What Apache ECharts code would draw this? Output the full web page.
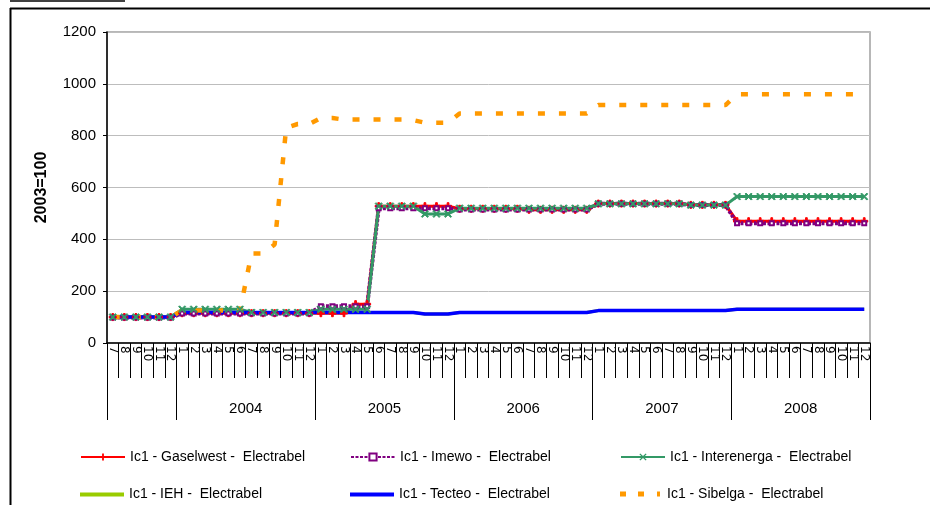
<!DOCTYPE html>
<html>
<head>
<meta charset="utf-8">
<script src="https://cdn.jsdelivr.net/npm/echarts@6/dist/echarts.min.js"></script>
<style>
  html, body { margin: 0; padding: 0; background: #fff; }
  #chart { width: 930px; height: 505px; }
</style>
</head>
<body>
<div id="chart"></div>
<script>
// Months from July 2003 to December 2008 (one category per month)
const monthLabels = [
  '7','8','9','10','11','12',
  '1','2','3','4','5','6','7','8','9','10','11','12',
  '1','2','3','4','5','6','7','8','9','10','11','12',
  '1','2','3','4','5','6','7','8','9','10','11','12',
  '1','2','3','4','5','6','7','8','9','10','11','12',
  '1','2','3','4','5','6','7','8','9','10','11','12'
];
const yearLabels = ['2004', '2005', '2006', '2007', '2008'];

// Index values, 2003 = 100
const gaselwest = [
  100,100,100,100,100,100,
  115,115,115,115,115,115,115,115,115,115,115,115,
  115,115,115,150,150,528,528,528,528,528,528,528,
  518,518,518,518,518,518,514,514,514,514,514,514,
  538,538,538,538,538,538,538,538,533,533,533,533,
  470,470,470,470,470,470,470,470,470,470,470,470
];
const imewo = [
  98,98,98,98,98,98,
  114,114,114,114,114,114,114,114,114,114,114,114,
  142,142,142,142,142,520,520,520,520,520,520,520,
  515,515,515,515,515,515,515,515,515,515,515,515,
  537,537,537,537,537,537,537,537,532,532,532,532,
  462,462,462,462,462,462,462,462,462,462,462,462
];
const interenerga = [
  100,100,100,100,100,100,
  130,130,130,130,130,130,118,118,118,118,118,118,
  130,130,130,130,130,528,528,528,528,498,498,498,
  520,520,520,520,520,520,520,520,520,520,520,520,
  537,537,537,537,537,537,537,537,532,532,532,532,
  565,565,565,565,565,565,565,565,565,565,565,565
];
const ieh = [
  100,100,100,100,100,100,
  118,118,118,118,118,118,118,118,118,118,118,118,
  118,118,118,118,118,118,118,118,118,112,112,112,
  118,118,118,118,118,118,118,118,118,118,118,118,
  125,125,125,125,125,125,125,125,125,125,125,125,
  130,130,130,130,130,130,130,130,130,130,130,130
];
const tecteo = [
  100,100,100,100,100,100,
  118,118,118,118,118,118,118,118,118,118,118,118,
  118,118,118,118,118,118,118,118,118,112,112,112,
  118,118,118,118,118,118,118,118,118,118,118,118,
  125,125,125,125,125,125,125,125,125,125,125,125,
  130,130,130,130,130,130,130,130,130,130,130,130
];
const sibelga = [
  100,100,100,100,100,100,
  125,125,125,125,125,125,345,345,380,830,845,845,
  868,868,862,862,862,862,862,862,860,850,850,850,
  886,886,886,886,886,886,886,886,886,886,886,886,
  918,918,918,918,918,918,918,918,918,918,918,918,
  960,960,960,960,960,960,960,960,960,960,960,960
];

// Year boundaries on a 0..N scale (N = number of months) and label centres
const nMonths = monthLabels.length;
const yearBounds = [0];
monthLabels.forEach((m, i) => { if (m === '1') yearBounds.push(i); });
yearBounds.push(nMonths);
const yearCenters = [];
for (let k = 1; k < yearBounds.length - 1; k++) {
  yearCenters.push((yearBounds[k] + yearBounds[k + 1]) / 2);
}

const FONT = 'Liberation Sans, Arial, sans-serif';
const PLUS = 'path://M3,0H5V3H8V5H5V8H3V5H0V3H3Z';
const CROSS = 'path://M0,1L1,0L4,3L7,0L8,1L5,4L8,7L7,8L4,5L1,8L0,7L3,4Z';

const seriesDefs = [
  { name: 'Ic1 - Gaselwest -  Electrabel', data: gaselwest, color: '#ff0000', width: 3,
    symbol: PLUS, symbolSize: 7 },
  { name: 'Ic1 - Imewo -  Electrabel', data: imewo, color: '#800080', width: 4,
    symbol: 'emptyRect', symbolSize: 4, dash: [3, 1.5] },
  { name: 'Ic1 - Interenerga -  Electrabel', data: interenerga, color: '#339966', width: 3,
    symbol: CROSS, symbolSize: 7 },
  { name: 'Ic1 - IEH -  Electrabel', data: ieh, color: '#99cc00', width: 3, symbol: 'none',
    legendIcon: 'path://M0,0H44V4H0Z', legendHeight: 4 },
  { name: 'Ic1 - Tecteo -  Electrabel', data: tecteo, color: '#0000ff', width: 3.5, symbol: 'none',
    legendIcon: 'path://M0,0H44V4H0Z', legendHeight: 4 },
  { name: 'Ic1 - Sibelga -  Electrabel', data: sibelga, color: '#ff9900', width: 4.5,
    symbol: 'none', dash: [7, 14],
    legendIcon: 'path://M0,0H6V5H0Z M18,0H24V5H18Z M37,0H40V5H37Z', legendHeight: 5 }
];

const series = seriesDefs.map(d => ({
  name: d.name,
  type: 'line',
  xAxisIndex: 0,
  yAxisIndex: 0,
  data: d.data,
  symbol: d.symbol,
  symbolSize: d.symbolSize || 0,
  showAllSymbol: true,
  color: d.color,
  itemStyle: { color: d.color, borderColor: d.color },
  lineStyle: { color: d.color, width: d.width, type: d.dash || 'solid', cap: 'butt' },
  emphasis: { disabled: true },
  animation: false
}));

// Legend entries placed in a 3 x 2 layout
const legendPos = [
  [80, 450], [350, 450], [620, 450],
  [80, 485], [350, 485], [620, 485]
];
const legends = seriesDefs.map((d, i) => {
  const lg = {
    data: [d.legendIcon ? { name: d.name, icon: d.legendIcon } : d.name],
    left: legendPos[i][0],
    top: legendPos[i][1],
    padding: 0,
    itemWidth: 44,
    itemHeight: d.legendHeight || 9,
    selectedMode: false,
    textStyle: { fontFamily: FONT, fontSize: 14, color: '#000' }
  };
  if (d.legendHeight) lg.top = legendPos[i][1] + (17 - d.legendHeight) / 2 - 4;
  return lg;
});

const chart = echarts.init(document.getElementById('chart'), null, { renderer: 'canvas' });
chart.setOption({
  animation: false,
  backgroundColor: '#fff',
  grid: {
    left: 107, right: 60, top: 32, bottom: 162,
    show: true, borderColor: '#a0a0a0', borderWidth: 1.5, backgroundColor: 'transparent'
  },
  legend: legends,
  xAxis: [
    {
      type: 'category',
      data: monthLabels,
      boundaryGap: true,
      position: 'bottom',
      axisLine: { show: true, lineStyle: { color: '#000', width: 1.5 } },
      axisTick: { show: true, interval: 0, length: 35, lineStyle: { color: '#000', width: 1 } },
      axisLabel: {
        interval: 0, rotate: -90, margin: 3,
        fontFamily: 'DejaVu Sans, sans-serif', fontSize: 12, color: '#000'
      },
      splitLine: { show: false }
    },
    {
      type: 'value',
      min: 0,
      max: nMonths,
      position: 'bottom',
      axisLine: { show: false },
      axisTick: {
        show: true, customValues: yearBounds, length: 77,
        lineStyle: { color: '#000', width: 1 }
      },
      axisLabel: {
        customValues: yearCenters,
        formatter: v => yearLabels[yearCenters.indexOf(v)] || '',
        margin: 58, fontFamily: FONT, fontSize: 15, color: '#000'
      },
      splitLine: { show: false }
    }
  ],
  yAxis: {
    type: 'value',
    min: 0, max: 1200, interval: 200,
    name: '2003=100',
    nameLocation: 'middle',
    nameGap: 57,
    nameRotate: 90,
    nameTextStyle: { fontFamily: FONT, fontSize: 16, fontWeight: 'bold', color: '#000' },
    axisLine: { show: true, lineStyle: { color: '#000', width: 1.5 } },
    axisTick: { show: true, length: 4, lineStyle: { color: '#000' } },
    axisLabel: { margin: 11, fontFamily: FONT, fontSize: 15, color: '#000', formatter: v => String(v) },
    splitLine: { show: true, lineStyle: { color: '#bdbdbd', width: 1 } }
  },
  graphic: [
    { type: 'line', shape: { x1: 10, y1: 8.5, x2: 930, y2: 8.5 }, style: { stroke: '#000', lineWidth: 2 } },
    { type: 'line', shape: { x1: 10.5, y1: 8, x2: 10.5, y2: 505 }, style: { stroke: '#000', lineWidth: 2 } },
    { type: 'line', shape: { x1: 10, y1: 1, x2: 125, y2: 1 }, style: { stroke: '#000', lineWidth: 1.5 } }
  ],
  series: series
});
</script>
</body>
</html>
